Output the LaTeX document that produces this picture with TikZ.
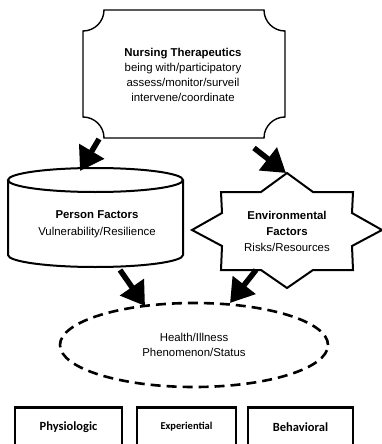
\documentclass[tikz,border=0pt]{standalone}
\usepackage{fontspec}
\setmainfont{Liberation Sans}
\newfontfamily\outcomefont{Carlito}
\usetikzlibrary{arrows.meta,shapes.geometric}

\begin{document}
\begin{tikzpicture}[x=1pt,y=1pt,yscale=-1,
  outline/.style={draw=black,line width=1.4pt,line join=miter},
  solidline/.style={draw=black,line width=2pt,line join=miter},
  fatarrow/.style={line width=5.5pt,-{Triangle[length=23pt,width=28pt]}},
  label/.style={align=center,inner sep=0pt,font=\fontsize{11.4}{15.2}\selectfont},
  outcomebox/.style={draw=black,line width=2.8pt,minimum width=#1,minimum height=60pt,anchor=north,inner sep=0pt},
  outcometext/.style={inner sep=0pt,font=\outcomefont\bfseries\fontsize{#1}{#1}\selectfont}]

\useasboundingbox (0,0) rectangle (382,444);
\clip (0,0) rectangle (382,444);

% Nursing therapeutics: box with concave corners
\node[label,minimum width=202pt,minimum height=128pt] (nt) at (183,75)
  {\textbf{Nursing Therapeutics}\\being with/participatory\\assess/monitor/surveil\\intervene/coordinate};
\draw[outline] (104,10) -- (264,10)
  .. controls (264,21.6) and (273.4,31) .. (285,31) -- (285,117)
  .. controls (273.4,117) and (264,126.4) .. (264,138) -- (104,138)
  .. controls (104,126.4) and (94.6,117) .. (83,117) -- (83,31)
  .. controls (94.6,31) and (104,21.6) .. (104,10) -- cycle;
\coordinate (ntleft) at (99,139);
\coordinate (ntright) at (254,148);

% Person factors: cylinder
\draw[solidline] (95.5,180) ellipse[x radius=87.5,y radius=12];
\draw[solidline] (8,180) -- (8,255)
  .. controls (8,261.6) and (47.2,267) .. (95.5,267)
  .. controls (143.8,267) and (183,261.6) .. (183,255) -- (183,180);
\node[label,font=\fontsize{11.4}{17}\selectfont] (pf) at (97,224)
  {\textbf{Person Factors}\\Vulnerability/Resilience};
\coordinate (pftop) at (80,171);
\coordinate (pfbottom) at (120,270);

% Environmental factors: eight-pointed star
\draw[solidline] (287,173) -- (313,192) -- (353,192) -- (352,213) -- (382,230)
  -- (352,246) -- (353,270) -- (313,270) -- (287,288) -- (261,270)
  -- (221,270) -- (222,246) -- (192,230) -- (222,213) -- (221,192)
  -- (261,192) -- cycle;
\node[label,font=\fontsize{11.4}{16}\selectfont] (env) at (287,231.5)
  {\textbf{Environmental}\\\textbf{Factors}\\Risks/Resources};
\coordinate (envtop) at (286,173);
\coordinate (envbottom) at (256,270);

% Health/illness: dashed ellipse
\node[ellipse,draw=black,line width=2.6pt,dash pattern=on 10pt off 6pt,
  minimum width=268pt,minimum height=84pt,align=center,inner sep=0pt,
  font=\fontsize{11.4}{15.5}\selectfont] (hi) at (194,345)
  {Health/Illness\\Phenomenon/Status};
\coordinate (hileft) at (145,306);
\coordinate (hiright) at (230,303);

% Influences
\draw[fatarrow] (ntleft) -- (pftop);
\draw[fatarrow] (ntright) -- (envtop);
\draw[fatarrow] (pfbottom) -- (hileft);
\draw[fatarrow] (envbottom) -- (hiright);

% Outcome categories
\node[outcomebox=107pt] (phys) at (68.5,406) {};
\node[outcomebox=99pt] (expe) at (186.5,406) {};
\node[outcomebox=105pt] (beha) at (300.5,406) {};
\node[outcometext=12.5] (physt) at (68.5,427) {Physiologic};
\node[outcometext=10.5] (expet) at (186.5,427) {Experiential};
\node[outcometext=12.5] (behat) at (300.5,427) {Behavioral};

\end{tikzpicture}
\end{document}
